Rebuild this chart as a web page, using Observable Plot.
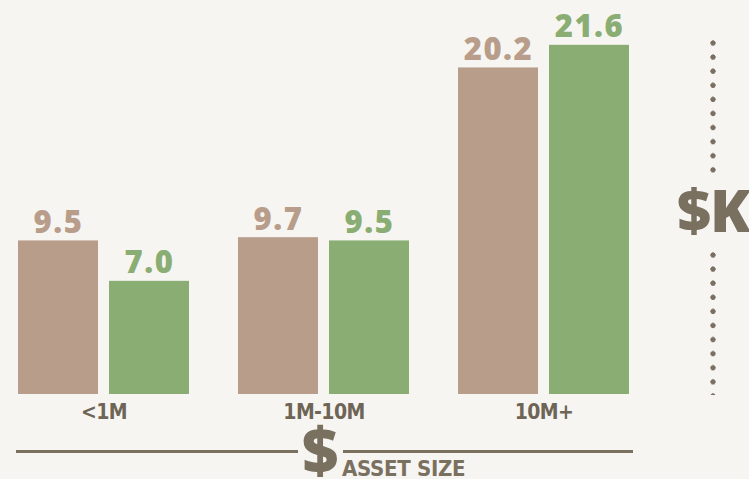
<!DOCTYPE html>
<html>
<head>
<meta charset="utf-8">
<script src="https://cdn.jsdelivr.net/npm/d3@7"></script>
<script src="https://cdn.jsdelivr.net/npm/@observablehq/plot@0.6"></script>
<style>
  html, body { margin: 0; padding: 0; background: #f6f5f2; }
  #wrap { position: relative; width: 749px; height: 479px; overflow: hidden; background: #f6f5f2; }
  #chart { position: absolute; left: 0; top: 0; }
  #chart g[aria-label="text"] text { letter-spacing: 1.5px; }
  #chart g[aria-label="fx-axis tick label"] text { letter-spacing: -0.6px; }
  .hline { position: absolute; height: 3px; background: #7a7060; top: 450px; }
  .dollar { position: absolute; font-family: "Open Sans", sans-serif; font-weight: 800; color: #7a7060; line-height: 1; }
  .asset { position: absolute; left: 342px; top: 458px; font-family: "DejaVu Sans Condensed", sans-serif; font-weight: bold; font-size: 22px; color: #7a7060; line-height: 1; letter-spacing: -0.3px; }
  .dots { position: absolute; left: 710px; width: 6px;
          background-image: radial-gradient(circle at 3px 3px, #7a7060 2.4px, transparent 2.9px);
          background-size: 6px 14.1px; background-repeat: repeat-y; }
</style>
</head>
<body>
<div id="wrap">
  <div id="chart"></div>
  <div class="hline" style="left:16px;width:282px"></div>
  <div class="hline" style="left:343px;width:290px"></div>
  <div class="dollar" style="left:302px;top:421px;font-size:63px;line-height:0.9;">$</div>
  <div class="asset">ASSET SIZE</div>
  <div class="dots" style="top:40px;height:136px"></div>
  <div class="dots" style="top:252px;height:143px"></div>
  <div class="dollar" style="left:677px;top:180px;font-size:59px;letter-spacing:-1px;">$K</div>
</div>
<script>
const groups = ["<1M", "1M-10M", "10M+"];
const series = ["A", "B"];
const valuesA = [9.5, 9.7, 20.2];
const valuesB = [7.0, 9.5, 21.6];
const colors = ["#b89e8a", "#8aad74"];

const data = [];
groups.forEach((g, i) => {
  data.push({group: g, series: series[0], value: valuesA[i]});
  data.push({group: g, series: series[1], value: valuesB[i]});
});

const chart = Plot.plot({
  width: 749,
  height: 432,
  marginLeft: 16,
  marginRight: 118,
  marginTop: 6,
  marginBottom: 38,
  style: {background: "transparent", overflow: "visible"},
  fx: {domain: groups, paddingInner: 0.213, paddingOuter: 0, label: null},
  x: {domain: series, paddingInner: 0.118, paddingOuter: 0, axis: null},
  y: {domain: [0, 24], axis: null},
  color: {domain: series, range: colors},
  marks: [
    Plot.barY(data, {fx: "group", x: "series", y: "value", fill: "series"}),
    Plot.text(data, {
      fx: "group", x: "series", y: "value",
      text: d => d.value.toFixed(1),
      fill: "series", dy: -8, lineAnchor: "bottom",
      fontSize: 31, fontWeight: 800, fontFamily: "Open Sans"
    }),
    Plot.axisFx({
      anchor: "bottom",
      tickSize: 0, tickPadding: 10, label: null,
      fontSize: 21, fontWeight: "bold",
      fontFamily: "DejaVu Sans Condensed, sans-serif", fill: "#6e6556"
    })
  ]
});
document.getElementById("chart").appendChild(chart);
</script>
</body>
</html>
